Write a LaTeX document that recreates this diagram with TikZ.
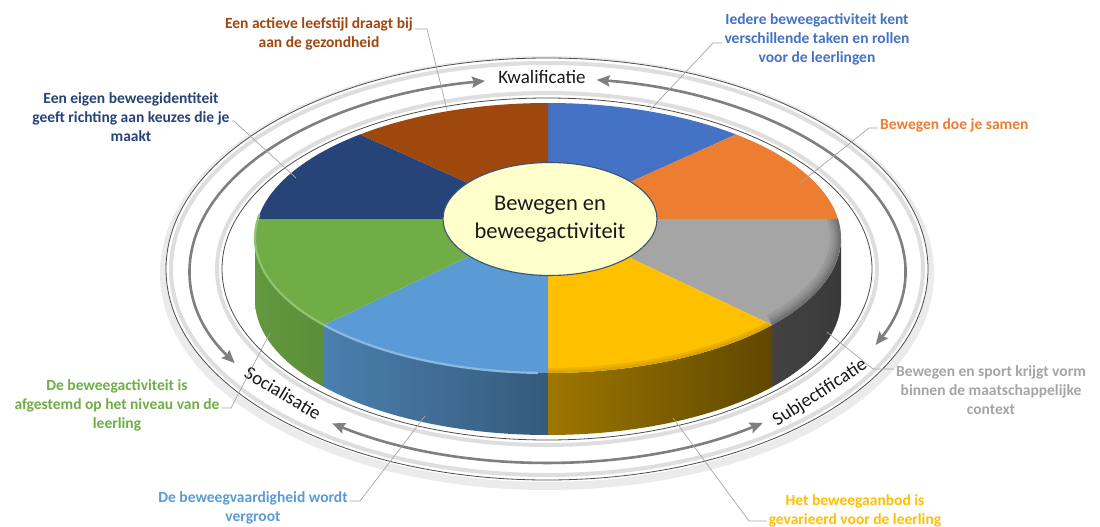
\documentclass[tikz,border=0pt]{standalone}
\usepackage{fontspec}
\setmainfont{Carlito}
\usetikzlibrary{arrows.meta,shapes.geometric}
\definecolor{cBlue}{HTML}{4472C4}
\definecolor{cOrange}{HTML}{ED7D31}
\definecolor{cGray}{HTML}{A5A5A5}
\definecolor{cYellow}{HTML}{FFC000}
\definecolor{cLBlue}{HTML}{5B9BD5}
\definecolor{cGreen}{HTML}{70AD47}
\definecolor{cNavy}{HTML}{264478}
\definecolor{cBrown}{HTML}{9E480E}
\definecolor{arrowgray}{HTML}{7F7F7F}
\definecolor{leadergray}{HTML}{A6A6A6}
\definecolor{hubfill}{HTML}{FFFFCC}
\definecolor{hubline}{HTML}{3A5472}
\newcommand{\calloutfont}{\fontsize{15.5}{19}\selectfont\bfseries}
\newcommand{\ringfont}{\fontsize{19}{23}\selectfont}
\newcommand{\pietop}[3]{\fill[#1] (548,219) -- ([shift={(548,238)}]#2:293 and 135) arc[start angle=#2,end angle=#3,x radius=293,y radius=135] -- cycle;}
\newcommand{\pieside}[4]{\path[left color=#1,right color=#2] ([shift={(548,238)}]#3:293 and 135) arc[start angle=#3,end angle=#4,x radius=293,y radius=135] -- ++(0,62) arc[start angle=#4,end angle=#3,x radius=293,y radius=135] -- cycle;}
\newcommand{\rimarc}[2]{([shift={(548,238)}]#1:293 and 135) arc[start angle=#1,end angle=#2,x radius=293,y radius=135]}
\begin{document}
\begin{tikzpicture}[x=1pt,y=-1pt,
  callout/.style={font=\calloutfont, align=center, inner sep=2pt},
  leader/.style={draw=leadergray, line width=0.7pt},
  ringline/.style={draw=black!70, line width=0.8pt},
  ringblur/.style={draw=black!13, line width=4pt},
  ringarrow/.style={draw=arrowgray, line width=2.6pt,
    {Stealth[length=13pt,width=11pt,inset=2pt]}-{Stealth[length=13pt,width=11pt,inset=2pt]}},
  ringlabel/.style={font=\ringfont, text=black!90, inner sep=0pt},
  hubshape/.style={ellipse, draw=hubline, line width=1.1pt, fill=hubfill,
    minimum width=214pt, minimum height=113pt, inner sep=0pt},
  hubtext/.style={font=\fontsize{22.5}{27.5}\selectfont, align=center, text=black!90, inner sep=0pt},
  softband/.style={draw=black, opacity=0.07}
]
\useasboundingbox (0,0) rectangle (1100,527);
\fill[white] (0,0) rectangle (1100,527);

% ---- rings
\draw[black!8, line width=8pt] (547,273) ellipse[x radius=383, y radius=213];
\fill[white] (547,269) ellipse[x radius=381, y radius=211];
\draw[ringblur] (547,269) ellipse[x radius=376, y radius=206];
\draw[ringblur] (547,269) ellipse[x radius=330, y radius=176];
\draw[ringline] (547,269) ellipse[x radius=381, y radius=211];
\draw[ringline] (547,269) ellipse[x radius=325, y radius=171];

% ---- pie sides
\pieside{cGray!40!black}{cGray!35!black}{0}{40.1}
\pieside{cYellow!62!black}{cYellow!37!black}{40.1}{90}
\pieside{cLBlue!82!black}{cLBlue!58!black}{90}{139.9}
\pieside{cGreen!88!black}{cGreen!82!black}{139.9}{180}

% ---- pie tops
\pietop{cBlue}{270}{309.9}
\pietop{cOrange}{309.9}{351.9}
\pietop{cGray}{351.9}{400.1}
\pietop{cYellow}{40.1}{90}
\pietop{cLBlue}{90}{139.9}
\pietop{cGreen}{139.9}{188.1}
\pietop{cNavy}{188.1}{230.1}
\pietop{cBrown}{230.1}{270}

% ---- rim effects
\begin{scope}
  \clip (548,219) -- ([shift={(548,238)}]351.9:293 and 135) arc[start angle=351.9,end angle=400.1,x radius=293,y radius=135] -- cycle;
  \draw[softband, line width=22pt] \rimarc{335}{400.1};
  \draw[softband, line width=16pt] \rimarc{335}{400.1};
  \draw[softband, line width=11pt] \rimarc{335}{400.1};
  \draw[softband, line width=7pt] \rimarc{335}{400.1};
  \draw[softband, line width=4pt] \rimarc{335}{400.1};
\end{scope}
\begin{scope}
  \clip (548,219) -- ([shift={(548,238)}]40.1:293 and 135) arc[start angle=40.1,end angle=90,x radius=293,y radius=135] -- cycle;
  \draw[softband, line width=10pt] \rimarc{40.1}{90};
  \draw[softband, line width=5pt] \rimarc{40.1}{90};
\end{scope}
\draw[cLBlue!70!white, line width=2.2pt] \rimarc{92}{139.9};
\draw[cGreen!75!white, line width=2.2pt] \rimarc{139.9}{190};

% ---- hub
\node[hubshape] (hub) at (550,219) {};
\node[hubtext] (hubtxt) at (hub.center) {Bewegen en\\beweegactiviteit};

% ---- ring arrows
\draw[ringarrow] ([shift={(547,270)}]260:357 and 192) arc[start angle=260,end angle=151,x radius=357,y radius=192];
\draw[ringarrow] ([shift={(547,270)}]127:357 and 192) arc[start angle=127,end angle=52.8,x radius=357,y radius=192];
\draw[ringarrow] ([shift={(547,270)}]23:357 and 192) arc[start angle=23,end angle=-82,x radius=357,y radius=192];

% ---- ring labels
\node[ringlabel] (kwal) at (542,77) {Kwalificatie};
\node[ringlabel, rotate=-31] (soc) at (283,393) {Socialisatie};
\node[ringlabel, rotate=33] (subj) at (820,393) {Subjectificatie};

% ---- callouts
\node[callout, text=cBrown] (brownTxt) at (319,33.5) {Een actieve leefstijl draagt bij\\aan de gezondheid};
\node[callout, text=cBlue] (blueTxt) at (817,39) {Iedere beweegactiviteit kent\\verschillende taken en rollen\\voor de leerlingen};
\node[callout, text=cNavy] (navyTxt) at (131,117) {Een eigen beweegidentiteit\\geeft richting aan keuzes die je\\maakt};
\node[callout, text=cOrange, anchor=west] (orTxt) at (878,125) {Bewegen doe je samen};
\node[callout, text=cGray] (grayTxt) at (991,390) {Bewegen en sport krijgt vorm\\binnen de maatschappelijke\\context};
\node[callout, text=cGreen] (greenTxt) at (117,405) {De beweegactiviteit is\\afgestemd op het niveau van de\\leerling};
\node[callout, text=cLBlue] (lbTxt) at (253,507.5) {De beweegvaardigheid wordt\\vergroot};
\node[callout, text=cYellow] (yTxt) at (855,511) {Het beweegaanbod is\\gevarieerd voor de leerling};

% ---- leaders
\coordinate (pBrown) at (447,110); \coordinate (kBrown) at (427,29);
\draw[leader] (pBrown) -- (kBrown) -- (brownTxt.east |- kBrown);
\coordinate (pBlue) at (650,110); \coordinate (kBlue) at (713,43);
\draw[leader] (pBlue) -- (kBlue) -- (blueTxt.west |- kBlue);
\coordinate (pNavy) at (296,178); \coordinate (kNavy) at (234,121);
\draw[leader] (pNavy) -- (kNavy) -- (navyTxt.east |- kNavy);
\coordinate (pOr) at (800,183); \coordinate (kOr) at (869,128);
\draw[leader] (pOr) -- (kOr) -- (orTxt.west |- kOr);
\coordinate (pGray) at (827,332); \coordinate (kGray) at (873,369);
\draw[leader] (pGray) -- (kGray) -- (grayTxt.west |- kGray);
\coordinate (pGreen) at (270,333); \coordinate (kGreen) at (231,408);
\draw[leader] (pGreen) -- (kGreen) -- (greenTxt.east |- kGreen);
\coordinate (pLB) at (425,416); \coordinate (kLB) at (360,501);
\draw[leader] (pLB) -- (kLB) -- (lbTxt.east |- kLB);
\coordinate (pY) at (673,418); \coordinate (kY) at (749,521);
\draw[leader] (pY) -- (kY) -- (yTxt.west |- kY);
\end{tikzpicture}
\end{document}
